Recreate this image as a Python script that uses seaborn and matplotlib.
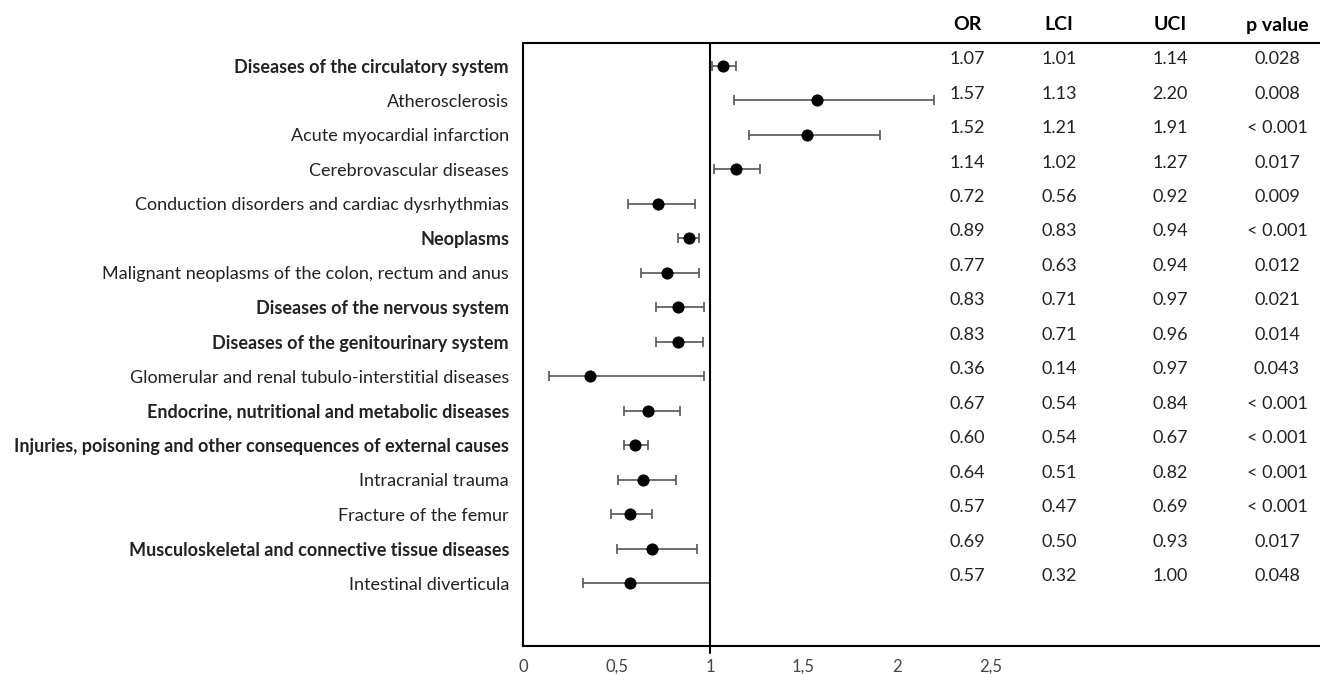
import pandas as pd
import matplotlib.pyplot as plt
import matplotlib.transforms as mtransforms
import seaborn as sns

# Dados do forest plot
categorias = [
    "Diseases of the circulatory system",
    "Atherosclerosis",
    "Acute myocardial infarction",
    "Cerebrovascular diseases",
    "Conduction disorders and cardiac dysrhythmias",
    "Neoplasms",
    "Malignant neoplasms of the colon, rectum and anus",
    "Diseases of the nervous system",
    "Diseases of the genitourinary system",
    "Glomerular and renal tubulo-interstitial diseases",
    "Endocrine, nutritional and metabolic diseases",
    "Injuries, poisoning and other consequences of external causes",
    "Intracranial trauma",
    "Fracture of the femur",
    "Musculoskeletal and connective tissue diseases",
    "Intestinal diverticula",
]
negrito = [True, False, False, False, False, True, False, True, True, False,
           True, True, False, False, True, False]
or_vals = [1.07, 1.57, 1.52, 1.14, 0.72, 0.89, 0.77, 0.83, 0.83, 0.36,
           0.67, 0.60, 0.64, 0.57, 0.69, 0.57]
lci_vals = [1.01, 1.13, 1.21, 1.02, 0.56, 0.83, 0.63, 0.71, 0.71, 0.14,
            0.54, 0.54, 0.51, 0.47, 0.50, 0.32]
uci_vals = [1.14, 2.20, 1.91, 1.27, 0.92, 0.94, 0.94, 0.97, 0.96, 0.97,
            0.84, 0.67, 0.82, 0.69, 0.93, 1.00]
p_vals = ["0.028", "0.008", "< 0.001", "0.017", "0.009", "< 0.001", "0.012",
          "0.021", "0.014", "0.043", "< 0.001", "< 0.001", "< 0.001",
          "< 0.001", "0.017", "0.048"]
cabecalho = ["OR", "LCI", "UCI", "p value"]
xticks = [0, 0.5, 1, 1.5, 2, 2.5]
xtick_labels = ["0", "0,5", "1", "1,5", "2", "2,5"]

df = pd.DataFrame({"Doenca": categorias, "OR": or_vals, "LCI": lci_vals,
                   "UCI": uci_vals, "p": p_vals})
df["pos"] = range(len(df))

sns.set_style("white")
plt.rcParams["font.family"] = ["Lato", "DejaVu Sans"]

W, H = 1320, 674
fig = plt.figure(figsize=(W / 100, H / 100), dpi=100)
ax = fig.add_axes([523 / W, (H - 646) / H, (W - 523) / W, (646 - 43) / H])

# Intervalos de confiança
ax.errorbar(df["OR"], df["pos"],
            xerr=[df["OR"] - df["LCI"], df["UCI"] - df["OR"]],
            fmt="none", ecolor="#555555", elinewidth=1.2, capsize=3.5, capthick=1.2)
sns.scatterplot(data=df, x="OR", y="pos", color="black", s=65, edgecolor="black",
                zorder=3, ax=ax)

ax.axvline(1, ymin=-0.012, ymax=1, color="black", lw=1.5, clip_on=False)

px = 187.0
ax.set_xlim(0, (W - 523) / px)
ax.set_ylim(15 + (646 - 583) / 34.47, -(66 - 43) / 34.47)

ax.set_xticks(xticks)
ax.set_xticklabels(xtick_labels, fontsize=12, color="#444444")
ax.set_yticks(df["pos"])
ax.set_yticklabels(df["Doenca"], fontsize=13, color="#222222")
for lbl, b in zip(ax.get_yticklabels(), negrito):
    if b:
        lbl.set_fontweight("bold")
ax.tick_params(axis="both", length=0)
ax.tick_params(axis="y", pad=10)
ax.tick_params(axis="x", pad=9)
ax.set_xlabel("")
ax.set_ylabel("")

for s in ["left", "top", "bottom"]:
    ax.spines[s].set_color("black")
    ax.spines[s].set_linewidth(1.5)
ax.spines["right"].set_visible(False)

# Tabela à direita
col_x = [967, 1059, 1170, 1277]
colunas = [[f"{v:.2f}" for v in or_vals], [f"{v:.2f}" for v in lci_vals],
           [f"{v:.2f}" for v in uci_vals], p_vals]
trans = mtransforms.blended_transform_factory(fig.transFigure, ax.transData)
for cx, titulo in zip(col_x, cabecalho):
    fig.text(cx / W, 1 - 25 / H, titulo, ha="center", va="center",
             fontsize=14, fontweight="bold", color="black")
for cx, valores in zip(col_x, colunas):
    for i, v in enumerate(valores):
        ax.text(cx / W, i - 0.2, v, ha="center", va="center", fontsize=13,
                color="#222222", transform=trans)

fig.savefig("out.png", dpi=100)
plt.close()
